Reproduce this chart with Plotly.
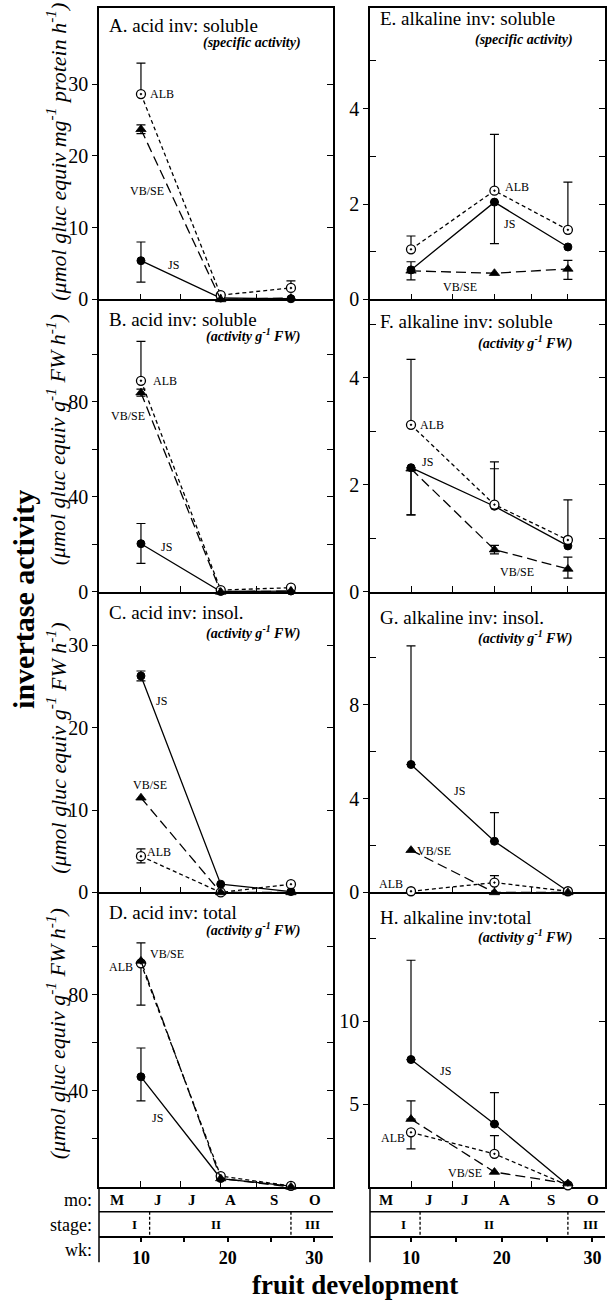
import plotly.graph_objects as go

FIG_W, FIG_H = 615, 1308
SERIF = "Liberation Serif"

# ---------------- data (weeks of fruit development) ----------------
weeks = [10, 19.2, 27.3]

# A. acid inv: soluble (specific activity)
A_JS = [5.4, 0.2, 0.1]
A_JS_up = [2.6, None, None]
A_JS_dn = [3.0, None, None]
A_ALB = [28.6, 0.6, 1.6]
A_ALB_up = [4.3, None, 1.0]
A_ALB_dn = [0, None, 0]
A_VB = [23.7, 0.0, 0.2]
A_VB_up = [0.6, None, None]
A_VB_dn = [0.6, None, None]

# B. acid inv: soluble (activity g-1 FW)
B_JS = [20.3, 0.2, 0.4]
B_JS_up = [8.5, None, None]
B_JS_dn = [8.3, None, None]
B_ALB = [88.8, 0.8, 1.8]
B_ALB_up = [16.6, None, None]
B_ALB_dn = [0, None, None]
B_VB = [83.8, 0.0, 0.4]
B_VB_up = [1.5, None, None]
B_VB_dn = [1.5, None, None]

# C. acid inv: insol. (activity g-1 FW)
C_JS = [26.3, 1.0, 0.1]
C_JS_up = [0.6, None, None]
C_JS_dn = [0.6, None, None]
C_ALB = [4.4, 0.0, 1.0]
C_ALB_up = [0.9, None, None]
C_ALB_dn = [0.8, None, None]
C_VB = [11.5, 0.0, 0.0]
C_VB_up = [None, None, None]
C_VB_dn = [None, None, None]

# D. acid inv: total (activity g-1 FW)
D_JS = [45.8, 3.5, 0.3]
D_JS_up = [12.0, None, None]
D_JS_dn = [10.0, None, None]
D_ALB = [93.0, 4.5, 0.4]
D_ALB_up = [8.5, None, None]
D_ALB_dn = [17.4, None, None]
D_VB = [94.0, 3.5, 0.0]
D_VB_up = [None, None, None]
D_VB_dn = [None, None, None]

# E. alkaline inv: soluble (specific activity)
E_JS = [0.62, 2.04, 1.1]
E_JS_up = [None, 0, None]
E_JS_dn = [None, 0.87, None]
E_ALB = [1.05, 2.28, 1.46]
E_ALB_up = [0.28, 1.18, 1.0]
E_ALB_dn = [0, 0, 0]
E_VB = [0.6, 0.55, 0.64]
E_VB_up = [0.19, None, 0.18]
E_VB_dn = [0.19, None, 0.22]

# F. alkaline inv: soluble (activity g-1 FW)
F_JS = [2.32, 1.6, 0.86]
F_JS_up = [0, 0.7, None]
F_JS_dn = [0.88, 0, None]
F_ALB = [3.12, 1.63, 0.97]
F_ALB_up = [1.22, 0.8, 0.75]
F_ALB_dn = [0, 0, 0]
F_VB = [2.3, 0.79, 0.43]
F_VB_up = [0, 0.08, 0.22]
F_VB_dn = [0.86, 0.08, 0.17]

# G. alkaline inv: insol. (activity g-1 FW)
G_JS = [5.45, 2.18, 0.05]
G_JS_up = [5.05, 1.22, None]
G_JS_dn = [0, 0, None]
G_ALB = [0.05, 0.42, 0.05]
G_ALB_up = [None, 0.3, None]
G_ALB_dn = [None, 0, None]
G_VB = [1.8, 0.0, 0.0]
G_VB_up = [None, None, None]
G_VB_dn = [None, None, None]

# H. alkaline inv: total (activity g-1 FW)
H_JS = [7.7, 3.8, 0.1]
H_JS_up = [6.0, 1.9, None]
H_JS_dn = [0, 0, None]
H_ALB = [3.3, 2.0, 0.1]
H_ALB_up = [0, 1.1, None]
H_ALB_dn = [1.0, 0, None]
H_VB = [4.1, 0.9, 0.2]
H_VB_up = [1.1, None, None]
H_VB_dn = [0, None, None]

panel_titles = ["A. acid inv: soluble", "B. acid inv: soluble", "C. acid inv: insol.",
                "D. acid inv: total", "E. alkaline inv: soluble", "F. alkaline inv: soluble",
                "G. alkaline inv: insol.", "H. alkaline inv:total"]
panel_subtitles = ["(specific activity)", "(activity g<sup>-1</sup> FW)", "(activity g<sup>-1</sup> FW)",
                   "(activity g<sup>-1</sup> FW)", "(specific activity)", "(activity g<sup>-1</sup> FW)",
                   "(activity g<sup>-1</sup> FW)", "(activity g<sup>-1</sup> FW)"]
unit_labels = ["(\u03bcmol gluc equiv mg<sup>-1</sup> protein h<sup>-1</sup>)",
               "(\u03bcmol gluc equiv g<sup>-1</sup> FW h<sup>-1</sup>)",
               "(\u03bcmol gluc equiv g<sup>-1</sup> FW h<sup>-1</sup>)",
               "(\u03bcmol gluc equiv g<sup>-1</sup> FW h<sup>-1</sup>)"]

months = ["M", "J", "J", "A", "S", "O"]
month_wk = [7.2, 12.0, 15.9, 20.3, 25.4, 30.1]
stages = ["I", "II", "III"]
stage_wk = [9.2, 18.6, 29.8]
stage_bounds = [11.0, 27.3]
wk_labeled = [10, 20, 30]
wk_minor = [15, 25]

# ---------------- layout geometry ----------------
def yp(px):
    return 1 - px / FIG_H

def xp(px):
    return px / FIG_W

rows_px = [(8, 302), (302, 597), (597, 900), (900, 1197)]
cols_px = [(99, 333), (370, 605)]
x_ranges = [[5.16, 32.15], [5.48, 31.39]]
panel_xticks = [10, 14.6, 19.2, 23.3, 27.3]

y_ranges = [[0, 40.6], [0, 123], [0, 36.5], [0, 122.5],
            [0, 6.11], [0, 5.46], [0, 12.8], [0, 17.8]]
y_labeled = [[0, 10, 20, 30], [0, 40, 80], [0, 10, 20, 30], [40, 80],
             [0, 2, 4], [0, 2, 4], [0, 4, 8], [5, 10]]
y_minor = [([], ""), ([20, 60, 100], "outside"), ([], ""), ([20, 60, 100], "outside"),
           ([1, 3, 5], "inside"), ([1, 3, 5], "inside"), ([2, 6, 10], "inside"), ([15], "inside")]
y_right = [[10, 20, 30], [20, 40, 60, 80, 100], [10, 20, 30], [20, 40, 60, 80, 100],
           [1, 2, 3, 4, 5], [1, 2, 3, 4, 5], [2, 4, 6, 8, 10], [5, 10, 15]]

title_y_px = [26, 322, 618, 920, 19, 324, 623, 925]
subtitle_y_px = [43, 338, 638, 937, 40, 345, 643, 944]

# series label annotations: (text, wk, value, xanchor)
series_labels = [
    [("ALB", 10.8, 28.6, "left"), ("VB/SE", 10.7, 15.1, "center"), ("JS", 13.7, 4.8, "center")],
    [("ALB", 11.16, 88.8, "left"), ("VB/SE", 8.5, 74, "center"), ("JS", 13.0, 18.8, "center")],
    [("JS", 12.4, 23.3, "center"), ("VB/SE", 11.0, 13.0, "center"), ("ALB", 10.5, 4.9, "left")],
    [("VB/SE", 10.8, 97, "left"), ("ALB", 9.3, 91.5, "right"), ("JS", 11.85, 28.5, "center")],
    [("ALB", 20.1, 2.36, "left"), ("JS", 20.9, 1.58, "center"), ("VB/SE", 15.4, 0.27, "center")],
    [("ALB", 10.8, 3.12, "left"), ("JS", 11.8, 2.42, "center"), ("VB/SE", 21.7, 0.37, "center")],
    [("JS", 15.4, 4.3, "center"), ("VB/SE", 10.4, 1.77, "left"), ("ALB", 7.8, 0.38, "center")],
    [("JS", 13.75, 7.0, "center"), ("ALB", 9.56, 2.95, "right"), ("VB/SE", 15.9, 0.84, "center")],
]

panel_series = [
    [(A_JS, A_JS_up, A_JS_dn), (A_ALB, A_ALB_up, A_ALB_dn), (A_VB, A_VB_up, A_VB_dn)],
    [(B_JS, B_JS_up, B_JS_dn), (B_ALB, B_ALB_up, B_ALB_dn), (B_VB, B_VB_up, B_VB_dn)],
    [(C_JS, C_JS_up, C_JS_dn), (C_ALB, C_ALB_up, C_ALB_dn), (C_VB, C_VB_up, C_VB_dn)],
    [(D_JS, D_JS_up, D_JS_dn), (D_ALB, D_ALB_up, D_ALB_dn), (D_VB, D_VB_up, D_VB_dn)],
    [(E_JS, E_JS_up, E_JS_dn), (E_ALB, E_ALB_up, E_ALB_dn), (E_VB, E_VB_up, E_VB_dn)],
    [(F_JS, F_JS_up, F_JS_dn), (F_ALB, F_ALB_up, F_ALB_dn), (F_VB, F_VB_up, F_VB_dn)],
    [(G_JS, G_JS_up, G_JS_dn), (G_ALB, G_ALB_up, G_ALB_dn), (G_VB, G_VB_up, G_VB_dn)],
    [(H_JS, H_JS_up, H_JS_dn), (H_ALB, H_ALB_up, H_ALB_dn), (H_VB, H_VB_up, H_VB_dn)],
]

series_style = [
    dict(dash="solid", marker=dict(symbol="circle", size=8, color="black",
                                   line=dict(color="black", width=1))),
    dict(dash="4px,3px", marker=dict(symbol="circle-dot", size=9, color="white",
                                     line=dict(color="black", width=1.3))),
    dict(dash="10px,5px", marker=dict(symbol="triangle-up", size=9, color="black",
                                      line=dict(color="black", width=0.8))),
]

fig = go.Figure()

# error bar traces first (drawn beneath lines/markers)
for p in range(8):
    i = p + 1
    for vals, up, dn in panel_series[p]:
        idx = [k for k in range(len(weeks)) if up[k] is not None or dn[k] is not None]
        if not idx:
            continue
        fig.add_trace(go.Scatter(
            x=[weeks[k] for k in idx], y=[vals[k] for k in idx], mode="markers",
            marker=dict(size=1, opacity=0),
            error_y=dict(type="data", symmetric=False,
                         array=[up[k] or 0 for k in idx],
                         arrayminus=[dn[k] or 0 for k in idx],
                         color="black", thickness=1.2, width=4.5),
            xaxis=f"x{i}", yaxis=f"y{i}", showlegend=False, hoverinfo="skip",
            cliponaxis=False))

for p in range(8):
    i = p + 1
    for s, (vals, up, dn) in enumerate(panel_series[p]):
        st = series_style[s]
        fig.add_trace(go.Scatter(
            x=weeks, y=vals, mode="lines+markers",
            line=dict(color="black", width=1.3, dash=st["dash"]),
            marker=st["marker"],
            xaxis=f"x{i}", yaxis=f"y{i}", showlegend=False, cliponaxis=False))
    # dummy trace for right overlay axis
    fig.add_trace(go.Scatter(x=[None], y=[None], xaxis=f"x{i}", yaxis=f"y{8 + i}",
                             showlegend=False, hoverinfo="skip"))

fig.add_trace(go.Scatter(x=[None], y=[None], xaxis="x9", yaxis="y4", showlegend=False, hoverinfo="skip"))
fig.add_trace(go.Scatter(x=[None], y=[None], xaxis="x10", yaxis="y8", showlegend=False, hoverinfo="skip"))

layout = dict(width=FIG_W, height=FIG_H, margin=dict(l=0, r=0, t=0, b=0),
              paper_bgcolor="white", plot_bgcolor="rgba(0,0,0,0)",
              showlegend=False, font=dict(family=SERIF, color="black"))

annotations = []
shapes = []


def fmt(v):
    return str(int(v)) if float(v).is_integer() else str(v)


for p in range(8):
    i = p + 1
    row, col = p % 4, p // 4
    top, bot = rows_px[row]
    c0, c1 = cols_px[col]
    layout[f"xaxis{i}"] = dict(
        domain=[xp(c0), xp(c1)], range=x_ranges[col], anchor=f"y{i}",
        showline=True, mirror=(row == 0), linecolor="black", linewidth=1.5,
        tickmode="array", tickvals=panel_xticks, ticks="inside", ticklen=6,
        tickwidth=1.3, tickcolor="black", showticklabels=False,
        showgrid=False, zeroline=False, layer="below traces")
    ycfg = dict(
        domain=[yp(bot), yp(top)], range=y_ranges[p], anchor=f"x{i}",
        showline=True, mirror=True, linecolor="black", linewidth=1.5,
        tickmode="array", tickvals=y_labeled[p], ticktext=[fmt(v) for v in y_labeled[p]],
        ticks="outside", ticklen=5, tickwidth=1.3, tickcolor="black",
        tickfont=dict(family=SERIF, size=20, color="black"),
        showgrid=False, zeroline=False, layer="below traces")
    mvals, mdir = y_minor[p]
    if mvals:
        ycfg["minor"] = dict(tickmode="array", tickvals=mvals, ticks=mdir,
                             ticklen=6 if mdir == "inside" else 5, tickwidth=1.3,
                             tickcolor="black", showgrid=False)
    layout[f"yaxis{i}"] = ycfg
    layout[f"yaxis{8 + i}"] = dict(
        overlaying=f"y{i}", side="right", anchor=f"x{i}", range=y_ranges[p],
        tickmode="array", tickvals=y_right[p], ticks="inside", ticklen=6,
        tickwidth=1.3, tickcolor="black", showticklabels=False, showline=False,
        showgrid=False, zeroline=False)

    # titles
    tx = c0 + 8
    annotations.append(dict(text=panel_titles[p], x=xp(tx), y=yp(title_y_px[p]),
                            xref="paper", yref="paper", xanchor="left", yanchor="middle",
                            showarrow=False, font=dict(family=SERIF, size=19, color="black")))
    annotations.append(dict(text="<i>" + panel_subtitles[p] + "</i>", x=xp(c1 - 30),
                            y=yp(subtitle_y_px[p]), xref="paper", yref="paper",
                            xanchor="right", yanchor="middle", showarrow=False,
                            font=dict(family=SERIF, size=14, color="black", weight="bold")))
    for text, wx, wy, anc in series_labels[p]:
        annotations.append(dict(text=text, x=wx, y=wy, xref=f"x{i}", yref=f"y{i}",
                                xanchor=anc, yanchor="middle", showarrow=False,
                                font=dict(family=SERIF, size=12, color="black")))

# y unit labels (left column)
unit_center_px = [153, 444, 755, 1043]
for r in range(4):
    annotations.append(dict(text="<i>" + unit_labels[r] + "</i>", x=xp(56), y=yp(unit_center_px[r]),
                            xref="paper", yref="paper", textangle=-90, showarrow=False,
                            xanchor="center", yanchor="middle",
                            font=dict(family=SERIF, size=22, color="black")))

annotations.append(dict(text="invertase activity", x=xp(24), y=yp(605), xref="paper", yref="paper",
                        textangle=-90, showarrow=False, xanchor="center", yanchor="middle",
                        font=dict(family=SERIF, size=30, color="black", weight="bold")))
annotations.append(dict(text="fruit development", x=xp(355), y=yp(1296), xref="paper", yref="paper",
                        showarrow=False, xanchor="center", yanchor="middle",
                        font=dict(family=SERIF, size=27, color="black", weight="bold")))

# bottom time strips
for name, ypx in (("mo:", 1210), ("stage:", 1235), ("wk:", 1261)):
    annotations.append(dict(text=name, x=xp(94), y=yp(ypx), xref="paper", yref="paper",
                            xanchor="right", yanchor="middle", showarrow=False,
                            font=dict(family=SERIF, size=18, color="black")))

for col, (base, strip) in enumerate((("x4", "x9"), ("x8", "x10"))):
    layout["xaxis" + strip[1:]] = dict(
        overlaying=base, anchor="free", position=yp(1247), range=x_ranges[col],
        tickmode="array", tickvals=wk_labeled, ticktext=[str(v) for v in wk_labeled],
        ticks="outside", ticklen=5, tickwidth=1.5, tickcolor="black",
        minor=dict(tickmode="array", tickvals=wk_minor, ticks="outside", ticklen=5,
                   tickwidth=1.5, tickcolor="black", showgrid=False),
        showline=True, linecolor="black", linewidth=1.5, showgrid=False, zeroline=False,
        tickfont=dict(family=SERIF, size=18, color="black", weight="bold"))
    shapes.append(dict(type="line", xref=base + " domain", yref="paper", x0=0, x1=1,
                       y0=yp(1222), y1=yp(1222), line=dict(color="black", width=1.5)))
    shapes.append(dict(type="line", xref=base + " domain", yref="paper", x0=0, x1=0,
                       y0=yp(1197), y1=yp(1273), line=dict(color="black", width=1.5)))
    for b in stage_bounds:
        shapes.append(dict(type="line", xref=base, yref="paper", x0=b, x1=b,
                           y0=yp(1222), y1=yp(1247), line=dict(color="black", width=1.3, dash="3px,2px")))
    for m, mw in zip(months, month_wk):
        annotations.append(dict(text=m, x=mw, y=yp(1210), xref=base, yref="paper",
                                showarrow=False, xanchor="center", yanchor="middle",
                                font=dict(family=SERIF, size=15, color="black", weight="bold")))
    for s, sw in zip(stages, stage_wk):
        annotations.append(dict(text=s, x=sw, y=yp(1235), xref=base, yref="paper",
                                showarrow=False, xanchor="center", yanchor="middle",
                                font=dict(family=SERIF, size=13, color="black", weight="bold")))

layout["annotations"] = annotations
layout["shapes"] = shapes
fig.update_layout(**layout)
fig.write_html("out.html")
